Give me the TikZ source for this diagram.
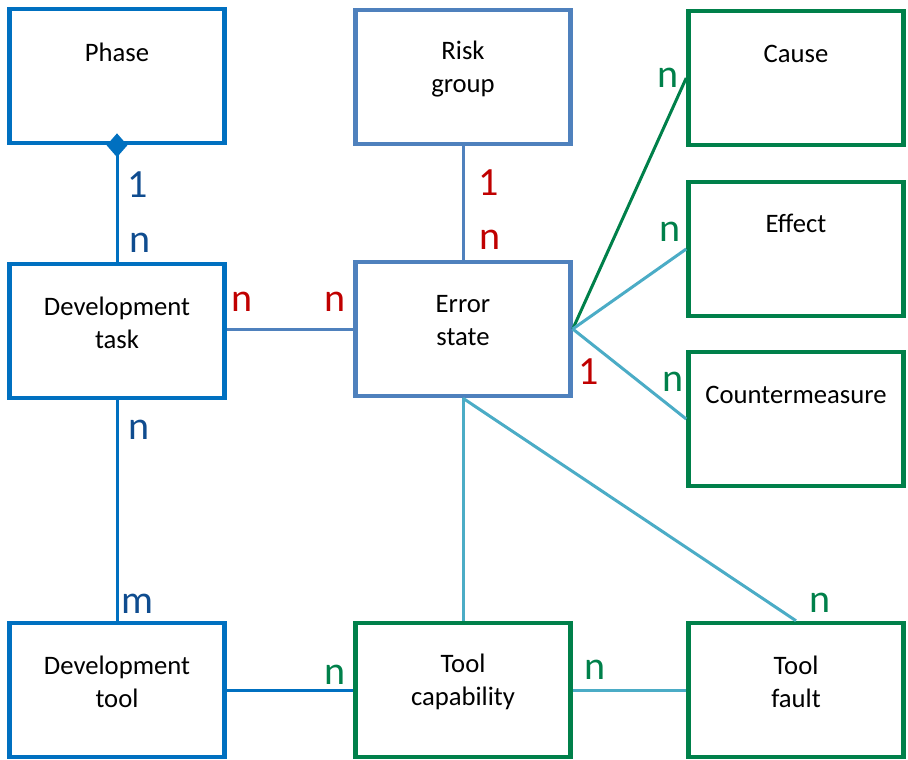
\documentclass[tikz,border=0pt]{standalone}
\usepackage{fontspec}
\setmainfont{Carlito}
\usetikzlibrary{shapes.geometric,calc}

\definecolor{boxblue}{HTML}{0070C0}
\definecolor{steelblue}{HTML}{4F81BD}
\definecolor{erdgreen}{HTML}{00804A}
\definecolor{linkteal}{HTML}{4BACC6}
\definecolor{labblue}{HTML}{0F4C8F}
\definecolor{labred}{HTML}{C00000}

\begin{document}
\begin{tikzpicture}[x=0.75pt,y=-0.75pt,
  entity/.style={draw, line width=3.4pt, fill=white, inner sep=0pt,
    minimum width=161.25pt, minimum height=100.5pt},
  bluebox/.style={entity, draw=boxblue},
  steelbox/.style={entity, draw=steelblue},
  greenbox/.style={entity, draw=erdgreen},
  title/.style={inner sep=0pt, align=center,
    font=\fontsize{20}{24.5}\selectfont},
  link/.style={line width=2.25pt, line cap=butt},
  card/.style={inner sep=0pt, font=\fontsize{30}{36}\selectfont},
]
\useasboundingbox (0,0) rectangle (908,760);

% entities
\node[bluebox]  (phase)     at (117,76)  {};
\node[steelbox] (risk)      at (463,77)  {};
\node[greenbox] (cause)     at (796,78)  {};
\node[bluebox]  (devtask)   at (117,331) {};
\node[steelbox] (error)     at (463,329) {};
\node[greenbox] (effect)    at (796,249) {};
\node[greenbox] (counter)   at (796,419) {};
\node[bluebox]  (devtool)   at (117,690) {};
\node[greenbox] (toolcap)   at (463,690) {};
\node[greenbox] (toolfault) at (796,690) {};

% entity names, set near the top of each box
\node[title] (phase-t)     at ($(phase.north)+(0,46)$)     {Phase};
\node[title] (risk-t)      at ($(risk.north)+(0,61)$)      {Risk\\group};
\node[title] (cause-t)     at ($(cause.north)+(0,45)$)     {Cause};
\node[title] (devtask-t)   at ($(devtask.north)+(0,61)$)   {Development\\task};
\node[title] (error-t)     at ($(error.north)+(0,61)$)     {Error\\state};
\node[title] (effect-t)    at ($(effect.north)+(0,44)$)    {Effect};
\node[title] (counter-t)   at ($(counter.north)+(0,45)$)   {Countermeasure};
\node[title] (devtool-t)   at ($(devtool.north)+(0,61)$)   {Development\\tool};
\node[title] (toolcap-t)   at ($(toolcap.north)+(0,61)$)   {Tool\\capability};
\node[title] (toolfault-t) at ($(toolfault.north)+(0,61)$) {Tool\\fault};

% relationships
\draw[link, boxblue]    (phase.south)   -- (devtask.north);
\draw[link, boxblue]    (devtask.south) -- (devtool.north);
\draw[link, boxblue]    (devtool.east)  -- (toolcap.west);
\draw[link, steelblue]  (risk.south)    -- (error.north);
\draw[link, steelblue]  (devtask.east |- error.west) -- (error.west);
\draw[link, erdgreen]   (error.east)    -- (cause.west);
\draw[link, linkteal]   (error.east)    -- (effect.west);
\draw[link, linkteal]   (error.east)    -- (counter.west);
\draw[link, linkteal]   (error.south)   -- (toolcap.north);
\draw[link, linkteal]   (error.south)   -- (toolfault.north);
\draw[link, linkteal]   (toolcap.east)  -- (toolfault.west);

% composition diamond on Phase
\node[diamond, fill=boxblue, inner sep=0pt, minimum width=15.75pt, minimum height=18pt]
  (phase-d) at (phase.south) {};

% cardinalities
\node[card, text=labblue] (c1) at (138,185) {1};
\node[card, text=labblue] (c2) at (140,243) {n};
\node[card, text=labblue] (c3) at (139,430) {n};
\node[card, text=labblue] (c4) at (137,604) {m};
\node[card, text=labred]  (c5) at (489,183) {1};
\node[card, text=labred]  (c6) at (490,240) {n};
\node[card, text=labred]  (c7) at (242,302) {n};
\node[card, text=labred]  (c8) at (335,302) {n};
\node[card, text=labred]  (c9) at (589,372) {1};
\node[card, text=erdgreen] (c10) at (668,78)  {n};
\node[card, text=erdgreen] (c11) at (670,232) {n};
\node[card, text=erdgreen] (c12) at (673,382) {n};
\node[card, text=erdgreen] (c13) at (820,603) {n};
\node[card, text=erdgreen] (c14) at (595,670) {n};
\node[card, text=erdgreen] (c15) at (335,675) {n};
\end{tikzpicture}
\end{document}
